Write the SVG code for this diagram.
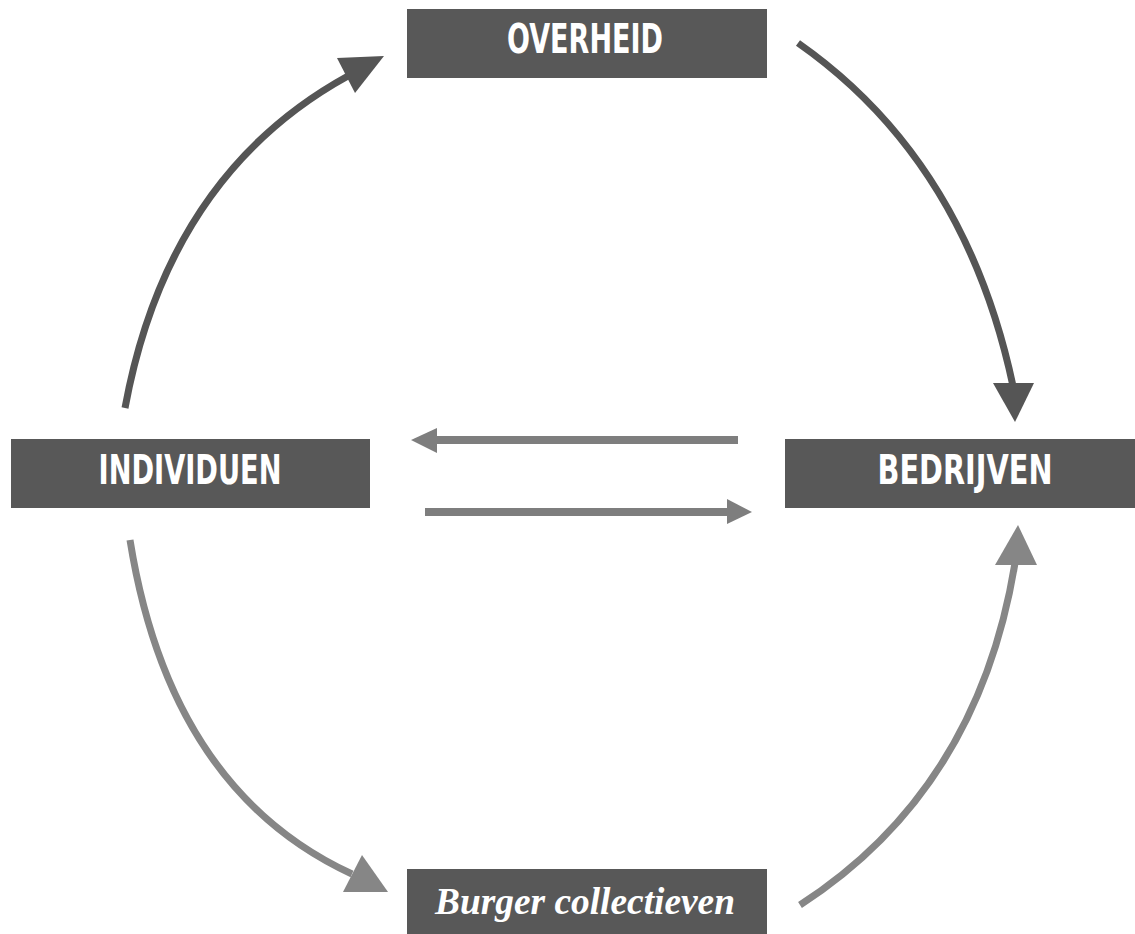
<svg xmlns="http://www.w3.org/2000/svg" width="1135" height="934" viewBox="0 0 1135 934">
  <style>
    .box { fill: #585858; }
    .lbl { fill: #ffffff; font-family: "DejaVu Sans Condensed", "DejaVu Sans", sans-serif; font-weight: bold; font-size: 40px; text-anchor: middle; }
    .script { fill: #ffffff; font-family: "Liberation Serif", serif; font-style: italic; font-weight: bold; font-size: 38px; text-anchor: middle; }
    .dark { fill: none; stroke: #555555; stroke-width: 7; }
    .light { fill: none; stroke: #868686; stroke-width: 7; }
    .flow { fill: none; stroke: #7e7e7e; stroke-width: 8; }
    .headDark { fill: #555555; }
    .headLight { fill: #868686; }
    .headFlow { fill: #7e7e7e; }
  </style>
  <rect width="1135" height="934" fill="#ffffff"/>

  <g id="connectors">
    <!-- Individuen to Overheid -->
    <path class="dark" d="M125,408 Q168,175 348,76"/>
    <polygon class="headDark" points="337,58 384,56 355,93"/>
    <!-- Overheid to Bedrijven -->
    <path class="dark" d="M798,43 Q965,160 1013,386"/>
    <polygon class="headDark" points="993,383 1034,383 1015,422"/>
    <!-- Individuen to Burger collectieven -->
    <path class="light" d="M130,540 Q170,790 352,874"/>
    <polygon class="headLight" points="362,855 343,892 388,892"/>
    <!-- Burger collectieven to Bedrijven -->
    <path class="light" d="M800,905 Q978,790 1015,563"/>
    <polygon class="headLight" points="995,565 1037,565 1018,525"/>
    <!-- Bedrijven to Individuen -->
    <line class="flow" x1="738" y1="440" x2="434" y2="440"/>
    <polygon class="headFlow" points="411,440 437,428 437,453"/>
    <!-- Individuen to Bedrijven -->
    <line class="flow" x1="425" y1="512" x2="730" y2="512"/>
    <polygon class="headFlow" points="752,512 727,499 727,524"/>
  </g>

  <g id="overheid">
    <rect class="box" x="407" y="9" width="360" height="69"/>
    <text class="lbl" x="585" y="53" textLength="156" lengthAdjust="spacingAndGlyphs">OVERHEID</text>
  </g>
  <g id="individuen">
    <rect class="box" x="11" y="439" width="359" height="69"/>
    <text class="lbl" x="190" y="484" textLength="183" lengthAdjust="spacingAndGlyphs">INDIVIDUEN</text>
  </g>
  <g id="bedrijven">
    <rect class="box" x="785" y="439" width="350" height="69"/>
    <text class="lbl" x="965" y="484" textLength="175" lengthAdjust="spacingAndGlyphs">BEDRIJVEN</text>
  </g>
  <g id="burger-collectieven">
    <rect class="box" x="407" y="869" width="360" height="65"/>
    <text class="script" x="585" y="914" textLength="300" lengthAdjust="spacingAndGlyphs">Burger collectieven</text>
  </g>
</svg>
